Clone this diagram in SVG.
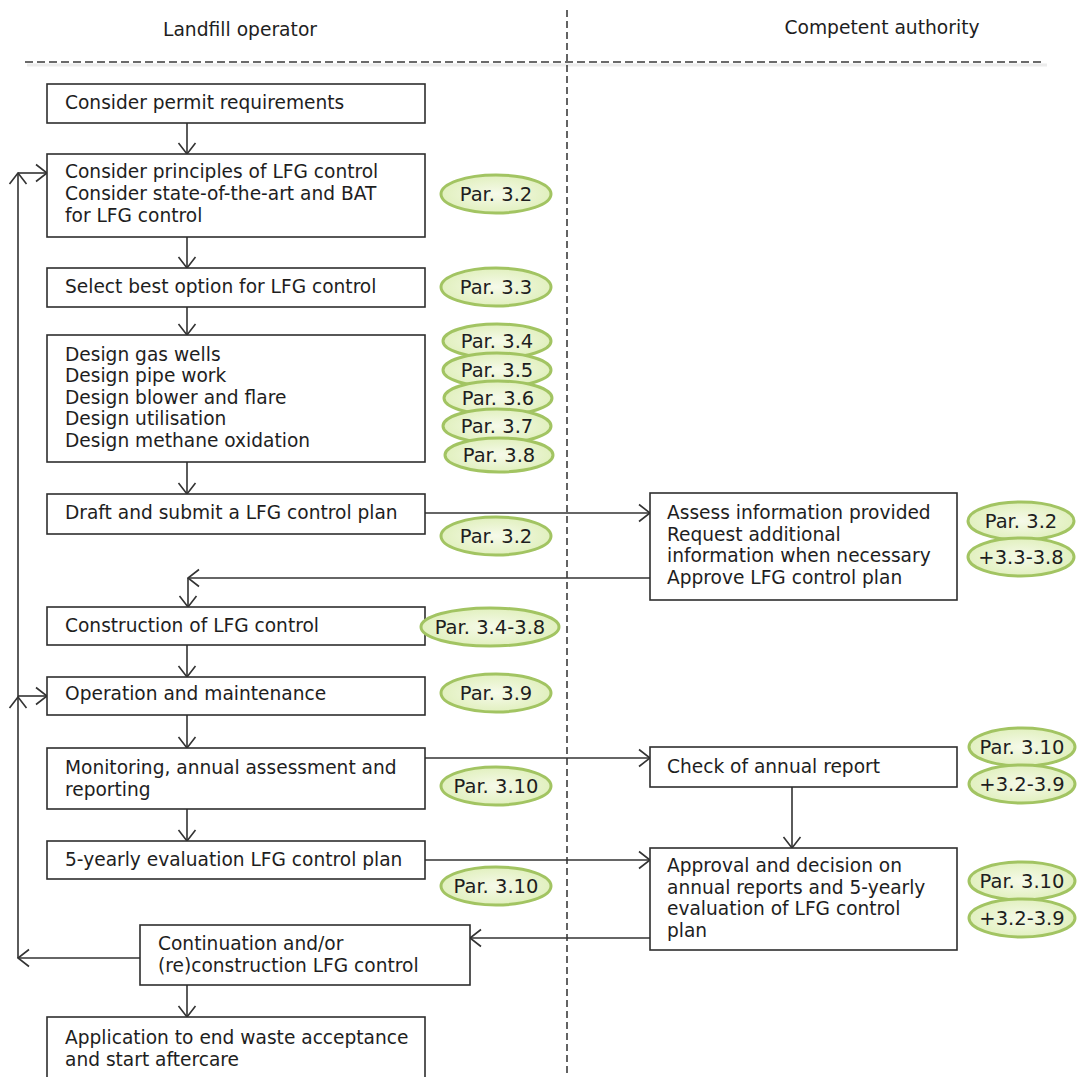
<svg xmlns="http://www.w3.org/2000/svg" width="1078" height="1077" viewBox="0 0 1078 1077">
<defs>
<style>
text{font-family:"DejaVu Sans","Liberation Sans",sans-serif;fill:#1e1e1e}
.t{font-size:18.6px}
.h{font-size:18.7px}
.box{fill:#fff;stroke:#2e2e2e;stroke-width:1.6}
.par{fill:url(#pg);stroke:#a2c462;stroke-width:3}
.pt{font-size:19.5px;text-anchor:middle}
.c{fill:none;stroke:#333;stroke-width:1.6}
.sep{fill:none;stroke:#3a3a3a;stroke-width:1.5;stroke-dasharray:8 4}
.vsep{fill:none;stroke:#222;stroke-width:1.4;stroke-dasharray:7 4}
.shd{fill:none;stroke:#ececec;stroke-width:3}
</style>
<radialGradient id="pg" cx="50%" cy="50%" r="60%">
<stop offset="0" stop-color="#f6faea"/>
<stop offset="1" stop-color="#ddeeb6"/>
</radialGradient>
<marker id="a" viewBox="0 0 13 20" refX="12" refY="10" markerWidth="13" markerHeight="20" markerUnits="userSpaceOnUse" orient="auto">
<path d="M1,1.5 L12,10 L1,18.5" fill="none" stroke="#333" stroke-width="1.6"/>
</marker>
</defs>
<rect width="1078" height="1077" fill="#fff"/>

<g id="headers">
<text class="h" x="240" y="36" text-anchor="middle">Landfill operator</text>
<text class="h" x="882" y="34" text-anchor="middle">Competent authority</text>
<line class="shd" x1="27" y1="65" x2="1047" y2="65"/>
<line class="sep" x1="25" y1="62" x2="1045" y2="62"/>
<line class="vsep" x1="567" y1="10" x2="567" y2="1077"/>
</g>

<g id="connectors">
<line class="c" x1="187" y1="123" x2="187" y2="154" marker-end="url(#a)"/>
<line class="c" x1="187" y1="237" x2="187" y2="268" marker-end="url(#a)"/>
<line class="c" x1="187" y1="307" x2="187" y2="335" marker-end="url(#a)"/>
<line class="c" x1="187" y1="462" x2="187" y2="494" marker-end="url(#a)"/>
<line class="c" x1="425" y1="513" x2="650" y2="513" marker-end="url(#a)"/>
<line class="c" x1="650" y1="578" x2="188" y2="578" marker-end="url(#a)"/>
<line class="c" x1="188" y1="578" x2="188" y2="607" marker-end="url(#a)"/>
<line class="c" x1="187" y1="645" x2="187" y2="677" marker-end="url(#a)"/>
<line class="c" x1="187" y1="715" x2="187" y2="748" marker-end="url(#a)"/>
<line class="c" x1="187" y1="809" x2="187" y2="841" marker-end="url(#a)"/>
<line class="c" x1="425" y1="758" x2="650" y2="758" marker-end="url(#a)"/>
<line class="c" x1="792" y1="787" x2="792" y2="848" marker-end="url(#a)"/>
<line class="c" x1="425" y1="860" x2="650" y2="860" marker-end="url(#a)"/>
<line class="c" x1="650" y1="938" x2="470" y2="938" marker-end="url(#a)"/>
<line class="c" x1="140" y1="958" x2="18" y2="958" marker-end="url(#a)"/>
<line class="c" x1="18" y1="958" x2="18" y2="697" marker-end="url(#a)"/>
<line class="c" x1="18" y1="697" x2="18" y2="173" marker-end="url(#a)"/>
<line class="c" x1="18" y1="173" x2="47" y2="173" marker-end="url(#a)"/>
<line class="c" x1="18" y1="696" x2="47" y2="696" marker-end="url(#a)"/>
<line class="c" x1="187" y1="985" x2="187" y2="1017" marker-end="url(#a)"/>
</g>

<g id="n1"><rect class="box" x="47" y="84" width="378" height="39"/>
<text class="t" x="65" y="109">Consider permit requirements</text></g>

<g id="n2"><rect class="box" x="47" y="154" width="378" height="83"/>
<text class="t" x="65" y="178">Consider principles of LFG control</text>
<text class="t" x="65" y="200">Consider state-of-the-art and BAT</text>
<text class="t" x="65" y="222">for LFG control</text></g>

<g id="n3"><rect class="box" x="47" y="268" width="378" height="39"/>
<text class="t" x="65" y="293">Select best option for LFG control</text></g>

<g id="n4"><rect class="box" x="47" y="335" width="378" height="127"/>
<text class="t" x="65" y="361">Design gas wells</text>
<text class="t" x="65" y="382">Design pipe work</text>
<text class="t" x="65" y="404">Design blower and flare</text>
<text class="t" x="65" y="425">Design utilisation</text>
<text class="t" x="65" y="447">Design methane oxidation</text></g>

<g id="n5"><rect class="box" x="47" y="494" width="378" height="40"/>
<text class="t" x="65" y="519">Draft and submit a LFG control plan</text></g>

<g id="n6"><rect class="box" x="47" y="607" width="378" height="38"/>
<text class="t" x="65" y="632">Construction of LFG control</text></g>

<g id="n7"><rect class="box" x="47" y="677" width="378" height="38"/>
<text class="t" x="65" y="700">Operation and maintenance</text></g>

<g id="n8"><rect class="box" x="47" y="748" width="378" height="61"/>
<text class="t" x="65" y="774">Monitoring, annual assessment and</text>
<text class="t" x="65" y="796">reporting</text></g>

<g id="n9"><rect class="box" x="47" y="841" width="378" height="38"/>
<text class="t" x="65" y="866">5-yearly evaluation LFG control plan</text></g>

<g id="n10"><rect class="box" x="140" y="925" width="330" height="60"/>
<text class="t" x="158" y="950">Continuation and/or</text>
<text class="t" x="158" y="972">(re)construction LFG control</text></g>

<g id="n11"><rect class="box" x="47" y="1017" width="378" height="62"/>
<text class="t" x="65" y="1044">Application to end waste acceptance</text>
<text class="t" x="65" y="1066">and start aftercare</text></g>

<g id="n12"><rect class="box" x="650" y="493" width="307" height="107"/>
<text class="t" x="667" y="519">Assess information provided</text>
<text class="t" x="667" y="541">Request additional</text>
<text class="t" x="667" y="562">information when necessary</text>
<text class="t" x="667" y="584">Approve LFG control plan</text></g>

<g id="n13"><rect class="box" x="650" y="747" width="307" height="40"/>
<text class="t" x="667" y="773">Check of annual report</text></g>

<g id="n14"><rect class="box" x="650" y="848" width="307" height="102"/>
<text class="t" x="667" y="872">Approval and decision on</text>
<text class="t" x="667" y="894">annual reports and 5-yearly</text>
<text class="t" x="667" y="915">evaluation of LFG control</text>
<text class="t" x="667" y="937">plan</text></g>

<g id="p1"><ellipse class="par" cx="496" cy="194" rx="55" ry="19"/><text class="pt" x="496" y="201">Par. 3.2</text></g>
<g id="p2"><ellipse class="par" cx="496" cy="287" rx="55" ry="19"/><text class="pt" x="496" y="294">Par. 3.3</text></g>
<g id="p3"><ellipse class="par" cx="497" cy="341" rx="54" ry="17"/><text class="pt" x="497" y="348">Par. 3.4</text></g>
<g id="p4"><ellipse class="par" cx="497" cy="370" rx="54" ry="17"/><text class="pt" x="497" y="377">Par. 3.5</text></g>
<g id="p5"><ellipse class="par" cx="498" cy="398" rx="54" ry="17"/><text class="pt" x="498" y="405">Par. 3.6</text></g>
<g id="p6"><ellipse class="par" cx="497" cy="426" rx="54" ry="17"/><text class="pt" x="497" y="433">Par. 3.7</text></g>
<g id="p7"><ellipse class="par" cx="499" cy="455" rx="54" ry="17"/><text class="pt" x="499" y="462">Par. 3.8</text></g>
<g id="p8"><ellipse class="par" cx="496" cy="536" rx="55" ry="19"/><text class="pt" x="496" y="543">Par. 3.2</text></g>
<g id="p9"><ellipse class="par" cx="1021" cy="521" rx="53" ry="19"/><text class="pt" x="1021" y="528">Par. 3.2</text></g>
<g id="p10"><ellipse class="par" cx="1021" cy="557" rx="53" ry="19"/><text class="pt" x="1021" y="564">+3.3-3.8</text></g>
<g id="p11"><ellipse class="par" cx="490" cy="627" rx="69" ry="19"/><text class="pt" x="490" y="634">Par. 3.4-3.8</text></g>
<g id="p12"><ellipse class="par" cx="496" cy="693" rx="55" ry="19"/><text class="pt" x="496" y="700">Par. 3.9</text></g>
<g id="p13"><ellipse class="par" cx="496" cy="786" rx="55" ry="19"/><text class="pt" x="496" y="793">Par. 3.10</text></g>
<g id="p14"><ellipse class="par" cx="1022" cy="747" rx="53" ry="19"/><text class="pt" x="1022" y="754">Par. 3.10</text></g>
<g id="p15"><ellipse class="par" cx="1022" cy="784" rx="53" ry="19"/><text class="pt" x="1022" y="791">+3.2-3.9</text></g>
<g id="p16"><ellipse class="par" cx="496" cy="886" rx="55" ry="19"/><text class="pt" x="496" y="893">Par. 3.10</text></g>
<g id="p17"><ellipse class="par" cx="1022" cy="881" rx="53" ry="19"/><text class="pt" x="1022" y="888">Par. 3.10</text></g>
<g id="p18"><ellipse class="par" cx="1022" cy="918" rx="53" ry="19"/><text class="pt" x="1022" y="925">+3.2-3.9</text></g>
</svg>
